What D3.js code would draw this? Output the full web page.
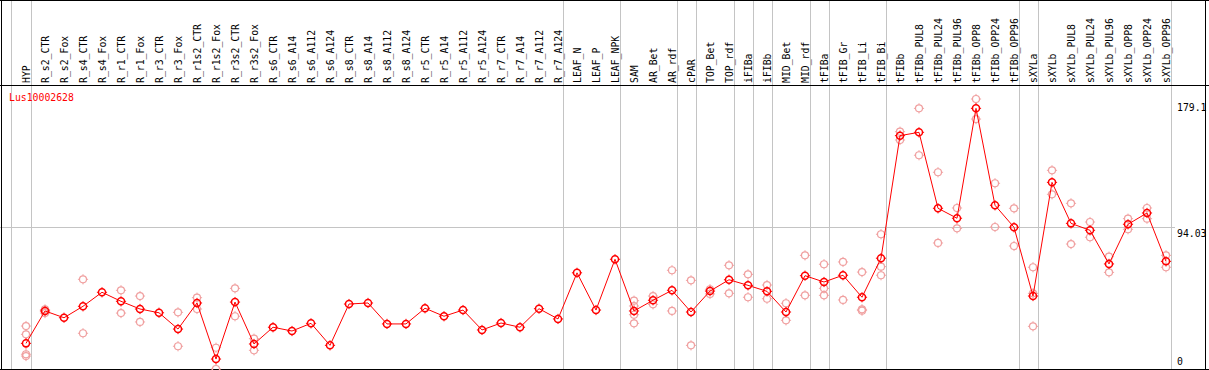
<!DOCTYPE html>
<html>
<head>
<meta charset="utf-8">
<script src="https://cdn.jsdelivr.net/npm/d3@7"></script>
<style>
  html, body { margin: 0; padding: 0; background: #fff; }
  svg { display: block; }
  text { font-family: "DejaVu Sans Mono", monospace; }
</style>
</head>
<body>
<svg id="chart" width="1209" height="370"></svg>
<script>
const geneName = "Lus10002628";

const categories = ["HYP","R_s2_CTR","R_s2_Fox","R_s4_CTR","R_s4_Fox","R_r1_CTR","R_r1_Fox","R_r3_CTR","R_r3_Fox",
  "R_r1s2_CTR","R_r1s2_Fox","R_r3s2_CTR","R_r3s2_Fox","R_s6_CTR","R_s6_A14","R_s6_A112","R_s6_A124",
  "R_s8_CTR","R_s8_A14","R_s8_A112","R_s8_A124","R_r5_CTR","R_r5_A14","R_r5_A112","R_r5_A124",
  "R_r7_CTR","R_r7_A14","R_r7_A112","R_r7_A124","LEAF_N","LEAF_P","LEAF_NPK","SAM","AR_Bet","AR_rdf",
  "cPAR","TOP_Bet","TOP_rdf","iFIBa","iFIBb","MID_Bet","MID_rdf","tFIBa","tFIB_Gr","tFIB_Li","tFIB_Bi",
  "tFIBb","tFIBb_PUL8","tFIBb_PUL24","tFIBb_PUL96","tFIBb_OPP8","tFIBb_OPP24","tFIBb_OPP96",
  "sXYLa","sXYLb","sXYLb_PUL8","sXYLb_PUL24","sXYLb_PUL96","sXYLb_OPP8","sXYLb_OPP24","sXYLb_OPP96"];

const meanValues = [17.0,38.5,34.0,41.6,50.9,44.9,39.8,37.3,26.5,
  43.8,6.6,44.4,16.6,27.7,25.2,30.3,15.7,
  43.1,43.8,29.9,29.9,40.3,35.0,39.1,25.9,
  30.5,27.7,40.0,33.2,63.8,39.1,72.8,38.5,45.6,52.2,
  37.8,51.7,59.2,55.5,51.5,37.8,61.9,57.7,62.2,47.6,73.5,
  154.8,157.0,106.6,100.0,172.9,108.6,94.0,
  48.4,123.8,96.6,92.0,69.7,96.0,103.5,71.4];

const replicateValues = [
  [28.5,23.0,9.8,8.6],[39.5,37.1],[],[59.5,23.7],[],[52.2,37.1],[48.4,31.2],[],[37.6,15.1],
  [47.3,39.8],[14.1,0],[53.5,35.0],[20.1,12.4],[],[],[],[],
  [],[],[],[],[],[],[],[],
  [],[],[],[],[],[],[],[45.3,41.8,36.0,30.3],[48.4,42.9],[65.5,38.5],
  [58.8,15.7],[52.9,49.8],[68.8,50.2],[62.8,47.6],[55.7,46.6],[43.6,32.3],[75.4,48.9],[69.5,53.5,48.9],[71.0,45.8],[64.3,39.6,38.7],[89.4,67.9,62.2],
  [157.4,151.9],[172.9,141.8],[130.5,83.6],[106.8,93.3],[179.1,165.8],[123.2,94.2],[106.6,81.6],
  [67.5,50.2,28.3],[131.8,115.9],[109.9,82.9],[97.5,87.4],[74.5,64.1],[99.7,92.7],[106.8,99.7],[75.4,67.5]];

// group separators: a vertical line is drawn after each of these categories
const groupEnds = ["HYP","R_r7_A124","LEAF_NPK","AR_rdf","cPAR","TOP_rdf","iFIBa","iFIBb","MID_rdf","tFIBa","tFIB_Bi","tFIBb_OPP96","sXYLa","sXYLb_OPP96"];

const yTicks = [0, 94.03, 179.1];
const gridValues = [94.03];

const W = 1209, H = 370;
const svg = d3.select("#chart");

const x = d3.scalePoint().domain(categories).range([26, 1166]);
const y = d3.scaleLinear().domain([0, 179.1]).range([369, 99]);

const grey = "#c4c4c4";
const pink = "#f0a0a0";
const red = "#ff0000";

// vertical group lines
const sepX = [x(categories[0]) - 15].concat(groupEnds.map(c => x(c) + 4.5));
svg.append("g").selectAll("line").data(sepX).join("line")
  .attr("x1", d => Math.round(d) + 0.5).attr("x2", d => Math.round(d) + 0.5)
  .attr("y1", 0).attr("y2", H)
  .attr("stroke", grey).attr("stroke-width", 1);

// horizontal grid
svg.append("g").selectAll("line").data(gridValues).join("line")
  .attr("x1", 0).attr("x2", 1175)
  .attr("y1", d => Math.round(y(d)) + 0.5).attr("y2", d => Math.round(y(d)) + 0.5)
  .attr("stroke", grey).attr("stroke-width", 1);

// frame
const frame = svg.append("g").attr("stroke", "#000").attr("stroke-width", 1);
frame.append("line").attr("x1", 0).attr("x2", W).attr("y1", 0.5).attr("y2", 0.5);
frame.append("line").attr("x1", 0).attr("x2", W).attr("y1", 85.5).attr("y2", 85.5);
frame.append("line").attr("x1", 0).attr("x2", W).attr("y1", 369.5).attr("y2", 369.5);
frame.append("line").attr("x1", 1.5).attr("x2", 1.5).attr("y1", 0).attr("y2", H);
frame.append("line").attr("x1", 1205.5).attr("x2", 1205.5).attr("y1", 0).attr("y2", H);

// header labels
svg.append("g").selectAll("text").data(categories).join("text")
  .attr("transform", d => `translate(${x(d) + 4},83) rotate(-90)`)
  .attr("font-size", "9.8px")
  .attr("fill", "#000")
  .text(d => d);

// gene name
svg.append("text").attr("x", 9).attr("y", 100.5)
  .attr("font-size", "9.8px").attr("fill", red).text(geneName);

// y axis labels
const axis = d3.axisRight(y).tickValues(yTicks).tickSize(0).tickPadding(0)
  .tickFormat(d => String(d));
const ag = svg.append("g").attr("transform", "translate(1177,0)").call(axis);
ag.select(".domain").remove();
ag.selectAll("text")
  .attr("font-family", "DejaVu Sans Mono, monospace")
  .attr("font-size", "9.8px")
  .attr("fill", "#000")
  .attr("dy", d => d === 0 ? "-4.5px" : (d === 179.1 ? "11px" : "9.5px"));

// marker drawing helper
function marker(g, color, sw) {
  const r = 3.5;
  g.append("circle").attr("r", r).attr("fill", "none").attr("stroke", color).attr("stroke-width", sw);
  const t = [[0,-r,0,-r-1.6],[0,r,0,r+1.6],[-r,0,-r-1.6,0],[r,0,r+1.6,0]];
  t.forEach(s => g.append("line").attr("x1", s[0]).attr("y1", s[1]).attr("x2", s[2]).attr("y2", s[3])
    .attr("stroke", color).attr("stroke-width", 1));
}

// replicates
const reps = [];
categories.forEach((c, i) => replicateValues[i].forEach(v => reps.push({c, v})));
svg.append("g").selectAll("g").data(reps).join("g")
  .attr("transform", d => `translate(${x(d.c)},${y(d.v)})`)
  .each(function() { marker(d3.select(this), pink, 1.2); });

// mean line
const line = d3.line().x((d, i) => x(categories[i])).y(d => y(d));
svg.append("path").datum(meanValues).attr("d", line)
  .attr("fill", "none").attr("stroke", red).attr("stroke-width", 1);

// mean markers
svg.append("g").selectAll("g").data(meanValues).join("g")
  .attr("transform", (d, i) => `translate(${x(categories[i])},${y(d)})`)
  .each(function() { marker(d3.select(this), red, 1.5); });
</script>
</body>
</html>
